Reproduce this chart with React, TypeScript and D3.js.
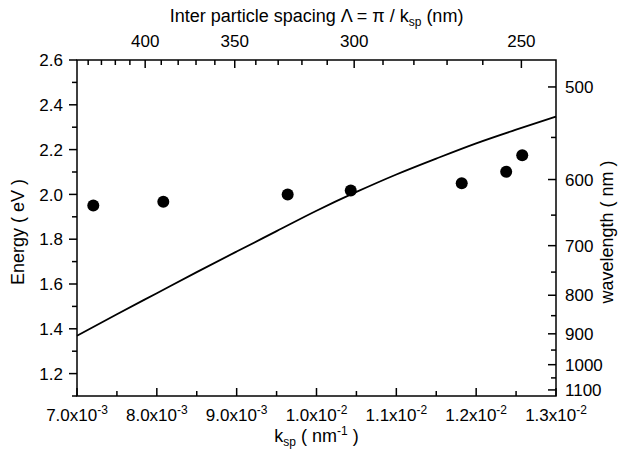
import React from "react";
import * as d3 from "d3";

// ---- data ----
const kTicks = [7.0e-3, 8.0e-3, 9.0e-3, 1.0e-2, 1.1e-2, 1.2e-2, 1.3e-2];
const kTickMantissa = ["7.0", "8.0", "9.0", "1.0", "1.1", "1.2", "1.3"];
const kTickExponent = ["-3", "-3", "-3", "-2", "-2", "-2", "-2"];
const kMinorTicks = [7.5e-3, 8.5e-3, 9.5e-3, 1.05e-2, 1.15e-2, 1.25e-2];

const energyTicks = [1.2, 1.4, 1.6, 1.8, 2.0, 2.2, 2.4, 2.6];
const energyMinorTicks = [1.1, 1.3, 1.5, 1.7, 1.9, 2.1, 2.3, 2.5];

const spacingTicks = [400, 350, 300, 250];
const spacingMinorTicks = [440, 430, 420, 410, 390, 380, 370, 360, 340, 330, 320, 310, 290, 280, 270, 260];

const wavelengthTicks = [500, 600, 700, 800, 900, 1000, 1100];
const wavelengthMinorTicks = [550, 650, 750, 850, 950, 1050];

const measuredK = [7.204e-3, 8.081e-3, 9.639e-3, 1.0429e-2, 1.1819e-2, 1.2376e-2, 1.2577e-2];
const measuredE = [1.95, 1.967, 2.0, 2.017, 2.05, 2.101, 2.175];

const curveK = [7.0e-3, 7.5e-3, 8.0e-3, 8.5e-3, 9.0e-3, 9.5e-3, 1.0e-2, 1.05e-2, 1.1e-2, 1.15e-2, 1.2e-2, 1.25e-2, 1.3e-2];
const curveE = [1.369, 1.465, 1.559, 1.653, 1.745, 1.836, 1.927, 2.011, 2.089, 2.16, 2.228, 2.289, 2.347];

const HC = 1239.84; // eV·nm

export default function App() {
  const W = 619, H = 464;
  const left = 77, right = 556, top = 60, bottom = 396;
  const x = d3.scaleLinear().domain([7.0e-3, 1.3e-2]).range([left, right]);
  const y = d3.scaleLinear().domain([1.1, 2.6]).range([bottom, top]);
  const xTop = (lam: number) => x(Math.PI / lam);
  const yRight = (lam: number) => y(HC / lam);

  const line = d3
    .line<number>()
    .x((_, i) => x(curveK[i]))
    .y((d) => y(d))
    .curve(d3.curveMonotoneX);

  const font = "'Liberation Sans', Arial, Helvetica, sans-serif";
  const fs = 17;
  const ts = 18;
  const sub = 12;
  const stroke = "#000";

  return (
    <svg
      width={W}
      height={H}
      viewBox={`0 0 ${W} ${H}`}
      style={{ position: "absolute", left: 0, top: 0, background: "#fff" }}
      fontFamily={font}
      fontSize={fs}
    >
      <rect x={0} y={0} width={W} height={H} fill="#fff" />
      {/* frame */}
      <rect x={left} y={top} width={right - left} height={bottom - top} fill="none" stroke={stroke} strokeWidth={1.5} />

      {/* left axis: outward ticks */}
      {energyTicks.map((v) => (
        <g key={"e" + v}>
          <line x1={left - 8} x2={left} y1={y(v)} y2={y(v)} stroke={stroke} strokeWidth={1.5} />
          <text x={left - 14} y={y(v)} dy="0.36em" textAnchor="end">
            {v.toFixed(1)}
          </text>
        </g>
      ))}
      {energyMinorTicks.map((v) => (
        <line key={"em" + v} x1={left - 5} x2={left} y1={y(v)} y2={y(v)} stroke={stroke} strokeWidth={1.5} />
      ))}
      <text transform={`translate(24, ${(top + bottom) / 2 + 4}) rotate(-90)`} textAnchor="middle" fontSize={ts}>
        Energy ( eV )
      </text>

      {/* bottom axis: inward ticks */}
      {kTicks.map((v, i) => (
        <g key={"k" + v}>
          <line x1={x(v)} x2={x(v)} y1={bottom} y2={bottom - 8} stroke={stroke} strokeWidth={1.5} />
          <text x={x(v)} y={bottom + 25} textAnchor="middle">
            <tspan>{kTickMantissa[i]}x10</tspan>
            <tspan dy={-7} fontSize={sub}>{kTickExponent[i]}</tspan>
          </text>
        </g>
      ))}
      {kMinorTicks.map((v) => (
        <line key={"km" + v} x1={x(v)} x2={x(v)} y1={bottom} y2={bottom - 5} stroke={stroke} strokeWidth={1.5} />
      ))}
      <text x={(left + right) / 2} y={bottom + 46} textAnchor="middle" fontSize={ts}>
        <tspan>k</tspan>
        <tspan dy={4} fontSize={sub}>sp</tspan>
        <tspan dy={-4}> ( nm</tspan>
        <tspan dy={-7} fontSize={sub}>-1</tspan>
        <tspan dy={7}> )</tspan>
      </text>

      {/* top axis: inter particle spacing, inward ticks */}
      {spacingTicks.map((v) => (
        <g key={"s" + v}>
          <line x1={xTop(v)} x2={xTop(v)} y1={top} y2={top + 8} stroke={stroke} strokeWidth={1.5} />
          <text x={xTop(v)} y={top - 13} textAnchor="middle">
            {v}
          </text>
        </g>
      ))}
      {spacingMinorTicks.map((v) => (
        <line key={"sm" + v} x1={xTop(v)} x2={xTop(v)} y1={top} y2={top + 5} stroke={stroke} strokeWidth={1.5} />
      ))}
      <text x={(left + right) / 2} y={22} textAnchor="middle" fontSize={ts}>
        <tspan>Inter particle spacing Λ = π / k</tspan>
        <tspan dy={4} fontSize={sub}>sp</tspan>
        <tspan dy={-4}> (nm)</tspan>
      </text>

      {/* right axis: wavelength, inward ticks */}
      {wavelengthTicks.map((v) => (
        <g key={"w" + v}>
          <line x1={right - 8} x2={right} y1={yRight(v)} y2={yRight(v)} stroke={stroke} strokeWidth={1.5} />
          <text x={right + 9} y={yRight(v)} dy="0.36em" textAnchor="start">
            {v}
          </text>
        </g>
      ))}
      {wavelengthMinorTicks.map((v) => (
        <line key={"wm" + v} x1={right - 5} x2={right} y1={yRight(v)} y2={yRight(v)} stroke={stroke} strokeWidth={1.5} />
      ))}
      <text transform={`translate(613, ${(top + bottom) / 2 + 4}) rotate(-90)`} textAnchor="middle" fontSize={ts}>
        wavelength ( nm )
      </text>

      {/* curve */}
      <path d={line(curveE) || ""} fill="none" stroke={stroke} strokeWidth={1.8} />

      {/* measured points */}
      {measuredK.map((k, i) => (
        <circle key={"p" + i} cx={x(k)} cy={y(measuredE[i])} r={6} fill={stroke} />
      ))}
    </svg>
  );
}
